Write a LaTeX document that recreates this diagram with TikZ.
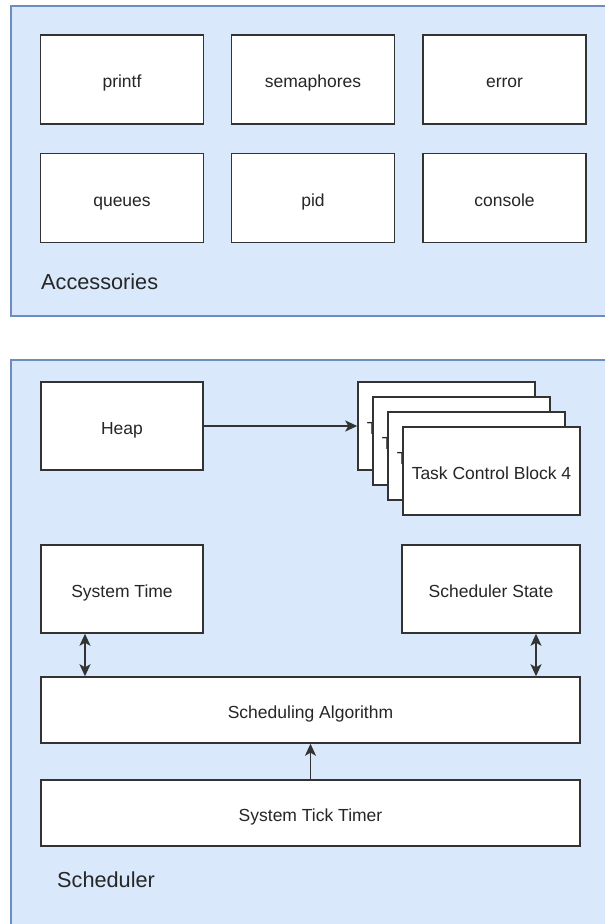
\documentclass[tikz,border=0pt]{standalone}
\usepackage{fontspec}
\setmainfont{Liberation Sans}
\usetikzlibrary{arrows.meta}
\definecolor{panelfill}{HTML}{DAE8FC}
\definecolor{panelline}{HTML}{6C8EBF}
\definecolor{boxline}{HTML}{333333}
\begin{document}
\begin{tikzpicture}[x=1pt,y=-1pt,
  panel/.style={draw=panelline,fill=panelfill,line width=1.4pt},
  box/.style={draw=boxline,fill=white,line width=1.5pt,inner sep=0pt,
    text height=16pt,text depth=0pt,
    font=\fontsize{17.5}{21}\selectfont,text=black!85},
  accbox/.style={box,minimum width=163pt,minimum height=89pt},
  lbl/.style={anchor=west,inner sep=0pt,font=\fontsize{21.7}{26}\selectfont,text=black!85},
  conn/.style={draw=boxline,line width=1.6pt},
  tipstyle/.style={>={Stealth[length=12pt,width=11pt,inset=3pt]}}
]
\useasboundingbox (0,0) rectangle (605,924);
\clip (0,0) rectangle (605,924);
% panels
\path[panel] (11,6) rectangle (640,316);
\path[panel] (11,360) rectangle (640,960);
% accessories
\node[accbox] (printf) at (122,79.5) {printf};
\node[accbox] (sem) at (313,79.5) {semaphores};
\node[accbox] (err) at (504.5,79.5) {error};
\node[accbox] (queues) at (122,198) {queues};
\node[accbox] (pid) at (313,198) {pid};
\node[accbox] (console) at (504.5,198) {console};
\node[lbl] (acclbl) at (41,282) {Accessories};
% scheduler
\node[box,minimum width=162pt,minimum height=88pt] (heap) at (122,426) {Heap};
\node[box,minimum width=177pt,minimum height=88pt] (tcb1) at (446.5,426) {Task Control Block 1};
\node[box,minimum width=177pt,minimum height=88pt] (tcb2) at (461.5,441) {Task Control Block 2};
\node[box,minimum width=177pt,minimum height=88pt] (tcb3) at (476.5,456) {Task Control Block 3};
\node[box,minimum width=177pt,minimum height=88pt] (tcb4) at (491.5,471) {Task Control Block 4};
\node[box,minimum width=162pt,minimum height=88pt] (systime) at (122,589) {System Time};
\node[box,minimum width=178pt,minimum height=88pt] (state) at (491,589) {Scheduler State};
\node[box,minimum width=539pt,minimum height=66pt] (algo) at (310.5,710) {Scheduling Algorithm};
\node[box,minimum width=539pt,minimum height=66pt] (tick) at (310.5,813) {System Tick Timer};
\node[lbl] (schedlbl) at (57,880) {Scheduler};
% connectors
\coordinate (xa) at (85,0);
\coordinate (xb) at (536,0);
\draw[conn,tipstyle,->] (heap.east) -- (tcb1.west);
\draw[conn,tipstyle,<->] (xa |- systime.south) -- (xa |- algo.north);
\draw[conn,tipstyle,<->] (xb |- state.south) -- (xb |- algo.north);
\draw[conn,tipstyle,->] (tick.north) -- (algo.south);
\end{tikzpicture}
\end{document}
